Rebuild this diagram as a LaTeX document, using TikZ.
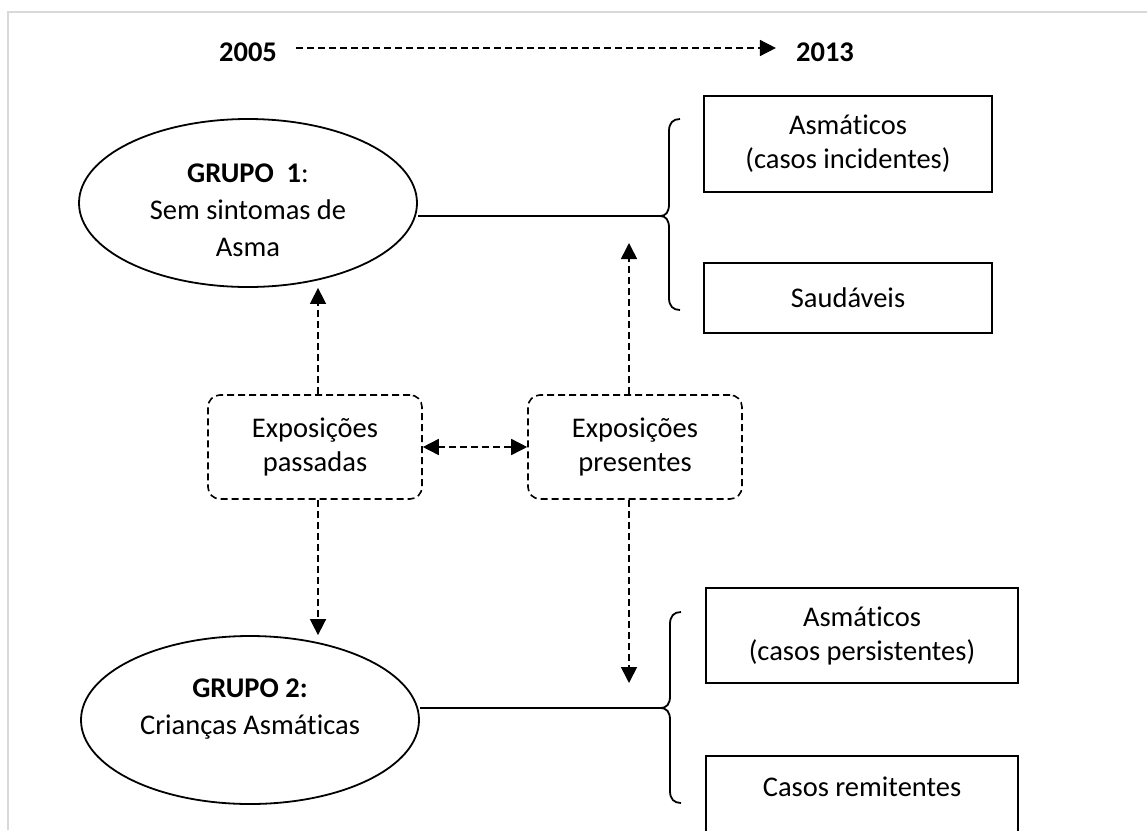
\documentclass[tikz,border=0pt]{standalone}
\usepackage{fontspec}
\setmainfont{Carlito}[Ligatures=NoCommon]
\usetikzlibrary{shapes.geometric,arrows.meta}
\definecolor{framegray}{HTML}{D9D9D9}
\begin{document}
\begin{tikzpicture}[x=1pt,y=-1pt,
  body/.style={font=\fontsize{28.5}{34}\selectfont},
  year/.style={font=\fontsize{28.5}{34}\selectfont\bfseries, inner sep=0pt},
  grp/.style={ellipse, draw, line width=1.8pt, minimum width=338pt,
    minimum height=168pt, inner sep=0pt, align=center,
    font=\fontsize{28.5}{37}\selectfont},
  outcome/.style={rectangle, draw, line width=1.8pt, inner sep=0pt,
    align=center, body},
  expo/.style={rectangle, draw, rounded corners=12pt, line width=1.6pt,
    dash pattern=on 7pt off 4pt, minimum width=214pt, minimum height=104pt,
    inner sep=0pt, align=center, body},
  darrow/.style={line width=1.6pt, dash pattern=on 7pt off 4pt,
    -{Triangle[length=16pt,width=16pt]}},
  link/.style={line width=1.8pt},
  bracepath/.style={line width=1.8pt, line join=round}]

\useasboundingbox (0,0) rectangle (1147,830);
\clip (0,0) rectangle (1147,830);

% page frame
\draw[framegray, line width=2pt] (8,830) -- (8,12) -- (1147,12);

% time line
\node[year] (y05) at (248,52) {2005};
\node[year] (y13) at (825,52) {2013};
\draw[darrow, shorten <=19pt, shorten >=20pt]
  ([yshift=4pt]y05.east) -- ([yshift=4pt]y13.west);

% groups (the strut lowers the first group's text a little)
\node[grp] (g1) at (248,203)
  {\rule{0pt}{34pt}\textbf{GRUPO\ \ 1}:\\Sem sintomas de\\Asma};
\node[grp, text depth=27pt] (g2) at (250,720) {\textbf{GRUPO 2:}\\Crianças Asmáticas};

% exposures
\node[expo] (pas) at (315,447) {Exposições\\passadas};
\node[expo] (pre) at (635,447) {Exposições\\presentes};

% outcomes
\node[outcome, minimum width=288pt, minimum height=96pt] (inc) at (848,144)
  {Asmáticos\\(casos incidentes)};
\node[outcome, minimum width=288pt, minimum height=70pt] (sau) at (848,298)
  {Saudáveis};
\node[outcome, minimum width=312pt, minimum height=95pt] (per) at (862,635.5)
  {Asmáticos\\(casos persistentes)};
\draw[line width=1.8pt] (706,880) -- (706,756) -- (1018,756) -- (1018,880);
\node[body] (rem) at (862,787) {Casos remitentes};

% braces
\coordinate (tip1) at (660,216);
\coordinate (tip2) at (660,708);
\draw[bracepath] (680,119) .. controls (673,119) and (669,123) .. (669,131)
  -- (669,204) .. controls (669,212) and (666,216) .. (tip1)
  .. controls (666,216) and (669,220) .. (669,228)
  -- (669,298) .. controls (669,306) and (673,310) .. (680,310);
\draw[bracepath] (681,612) .. controls (674,612) and (670,616) .. (670,624)
  -- (670,696) .. controls (670,704) and (667,708) .. (tip2)
  .. controls (667,708) and (670,712) .. (670,720)
  -- (670,791) .. controls (670,799) and (674,803) .. (681,803);

% group to outcome links
\draw[link] (g1.east |- tip1) -- (tip1);
\draw[link] (g2.east |- tip2) -- (tip2);

% exposure arrows
\coordinate (upend) at (629,243);
\coordinate (downend) at (629,683);
\draw[darrow] ([xshift=3pt]pas.north) -- ([xshift=3pt]pas.north |- g1.south);
\draw[darrow] ([xshift=3pt]pas.south) -- ([xshift=3pt]pas.south |- g2.north);
\draw[darrow] (pre.north -| upend) -- (upend);
\draw[darrow] (pre.south -| downend) -- (downend);
\draw[darrow, {Triangle[length=16pt,width=16pt]}-{Triangle[length=16pt,width=16pt]}]
  (pas.east) -- (pre.west);
\end{tikzpicture}
\end{document}
